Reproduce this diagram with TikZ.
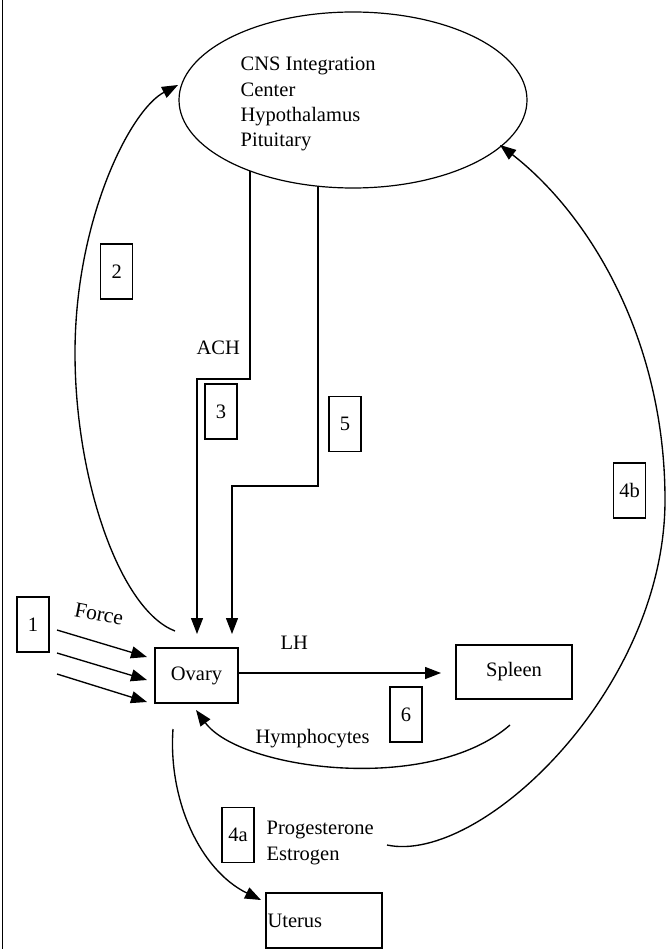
\documentclass[tikz,border=0pt]{standalone}
\usepackage{fontspec}
\setmainfont{Liberation Serif}
\usetikzlibrary{arrows.meta,shapes.geometric}
\begin{document}
\begin{tikzpicture}[x=1pt,y=-1pt,
  line width=1.35pt,
  every node/.style={font=\fontsize{20.5}{25.3}\selectfont},
  numbox/.style={draw, line width=1.2pt, minimum width=32pt, minimum height=55pt, inner sep=0pt},
  organ/.style={draw, line width=1.2pt, inner sep=0pt},
  lbl/.style={anchor=base west, inner sep=0pt},
  arr/.style={-{Triangle[length=16pt,width=12pt]}},
]
\useasboundingbox (0,0) rectangle (666,949);
% left frame line
\draw[line width=1.5pt] (2.5,0) -- (2.5,949);

% main nodes
\node[draw, ellipse, minimum width=348pt, minimum height=176pt, inner sep=0pt, line width=1.2pt] (cns) at (353,100) {};
\node[lbl, align=left] (cnstext) at (240,146.9) {CNS Integration\\Center\\Hypothalamus\\Pituitary};
\node[organ, minimum width=83pt, minimum height=55pt] (ovary) at (196.5,675.5) {Ovary};
\node[organ, minimum width=116pt, minimum height=54pt] (spleen) at (514,672) {Spleen};
\node[organ, minimum width=116pt, minimum height=55pt, text width=113pt, align=left, inner xsep=1.5pt] (uterus) at (324,920.5) {Uterus};

% number boxes
\node[numbox] (n1) at (33,624.5) {1};
\node[numbox] (n2) at (116.7,271.5) {2};
\node[numbox] (n3) at (221,411.5) {3};
\node[numbox] (n5) at (345,424) {5};
\node[numbox] (n6) at (406,714.5) {6};
\node[numbox] (n4a) at (238,835) {4a};
\node[numbox] (n4b) at (629.5,490.5) {4b};

% labels
\node[lbl] (ach) at (196,354) {ACH};
\node[rotate=-11, inner sep=0pt, font=\fontsize{21.5}{25}\selectfont] (force) at (99,614) {Force};
\node[lbl] (lh) at (280,649) {LH};
\node[lbl] (hym) at (255,743) {Hymphocytes};
\node[lbl, align=left] (prog) at (266,860) {Progesterone\\Estrogen};

% coordinates
\coordinate (a0) at (250,171);
\coordinate (a1) at (250,379);
\coordinate (a2) at (197,379);
\coordinate (a3) at (197,634);
\coordinate (b0) at (318,186);
\coordinate (b1) at (318,486);
\coordinate (b2) at (232,486);
\coordinate (b3) at (232,634);
\coordinate (f1s) at (57,630);  \coordinate (f1e) at (147,657);
\coordinate (f2s) at (57,653);  \coordinate (f2e) at (147,680);
\coordinate (f3s) at (57,674);  \coordinate (f3e) at (147,702);
\coordinate (lhs) at (238,673); \coordinate (lhe) at (441,673);
\coordinate (c2s) at (175,631); \coordinate (c2m) at (75,353); \coordinate (c2e) at (178,85);
\coordinate (hs) at (510,725);  \coordinate (he) at (196,710);
\coordinate (us) at (173,729);  \coordinate (ue) at (261,900);
\coordinate (ps) at (387,845);  \coordinate (pm) at (665,500); \coordinate (pe) at (500,145);

% connectors
\draw[arr] (a0) -- (a1) -- (a2) -- (a3);
\draw[arr] (b0) -- (b1) -- (b2) -- (b3);
\draw[arr] (f1s) -- (f1e);
\draw[arr] (f2s) -- (f2e);
\draw[arr] (f3s) -- (f3e);
\draw[arr] (lhs) -- (lhe);
\draw[arr] (c2s) .. controls (120,610) and (75,480) .. (c2m) .. controls (75,220) and (130,110) .. (c2e);
\draw[arr] (hs) .. controls (430,795) and (240,770) .. (he);
\draw[arr] (us) .. controls (168,800) and (200,870) .. (ue);
\draw[arr] (ps) .. controls (480,865) and (665,690) .. (pm) .. controls (665,340) and (590,215) .. (pe);
\end{tikzpicture}
\end{document}
